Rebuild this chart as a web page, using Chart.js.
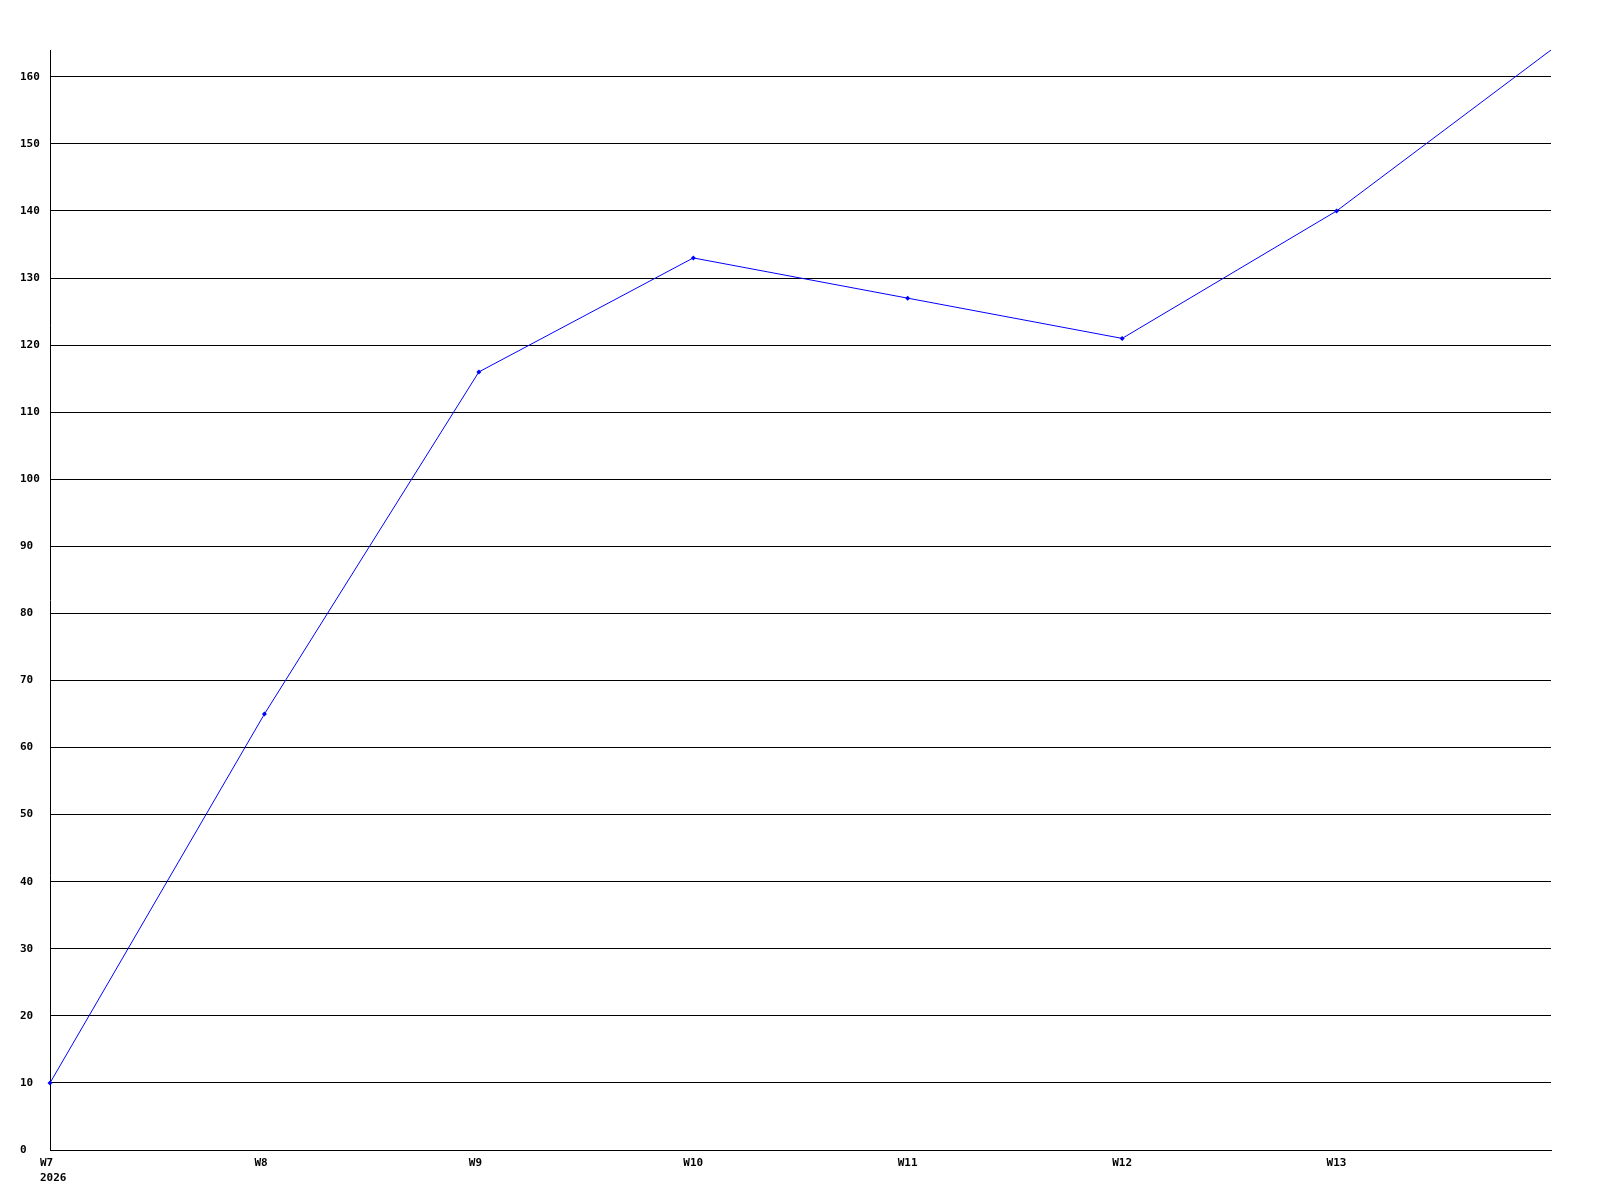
<!DOCTYPE html>
<html>
<head>
<meta charset="utf-8">
<style>
  html, body { margin: 0; padding: 0; background: #fff; }
  #wrap { width: 1600px; height: 1200px; }
</style>
<script src="https://cdn.jsdelivr.net/npm/chart.js@4/dist/chart.umd.min.js"></script>
</head>
<body>
<div id="wrap"><canvas id="grafico" width="1600" height="1200"></canvas></div>
<script>
// weeks on the x axis (last point runs to the right edge, no label)
const semanas = [["W7", "2026"], "W8", "W9", "W10", "W11", "W12", "W13", ""];
const valores = [10, 65, 116, 133, 127, 121, 140, 164];
const yMin = 0;
const yMax = 164;
const yPasso = 10;

const fonte = { family: "'DejaVu Sans Mono', monospace", size: 11, weight: "bold", lineHeight: 1.36 };

const ctx = document.getElementById("grafico").getContext("2d");

new Chart(ctx, {
    type: "line",
    data: {
        labels: semanas,
        datasets: [{
            data: valores,
            borderColor: "#0000ff",
            backgroundColor: "#0000ff",
            borderWidth: 1,
            pointStyle: "rectRot",
            pointRadius: valores.map((v, i) => i === valores.length - 1 ? 0 : 2.5),
            pointBorderWidth: 0,
            tension: 0,
            fill: false
        }]
    },
    options: {
        responsive: false,
        animation: false,
        devicePixelRatio: 1,
        layout: { padding: { left: 20, top: 50, right: 49, bottom: 0 } },
        plugins: {
            legend: { display: false },
            tooltip: { enabled: false }
        },
        scales: {
            x: {
                offset: false,
                grid: { display: false, drawTicks: false },
                border: { display: true, color: "#000", width: 1 },
                ticks: {
                    color: "#000",
                    font: fonte,
                    align: "start",
                    labelOffset: -10,
                    padding: 6,
                    maxRotation: 0,
                    autoSkip: false
                },
                afterFit: scale => { scale.height = 50; }
            },
            y: {
                min: yMin,
                max: yMax,
                grid: { color: "#000", lineWidth: 1, drawTicks: false },
                border: { display: true, color: "#000", width: 1 },
                ticks: {
                    stepSize: yPasso,
                    color: "#000",
                    font: fonte,
                    crossAlign: "far",
                    padding: 0
                },
                afterBuildTicks: scale => {
                    scale.ticks = scale.ticks.filter(t => t.value % yPasso === 0);
                },
                afterFit: scale => { scale.width = 30; }
            }
        }
    }
});
</script>
</body>
</html>
